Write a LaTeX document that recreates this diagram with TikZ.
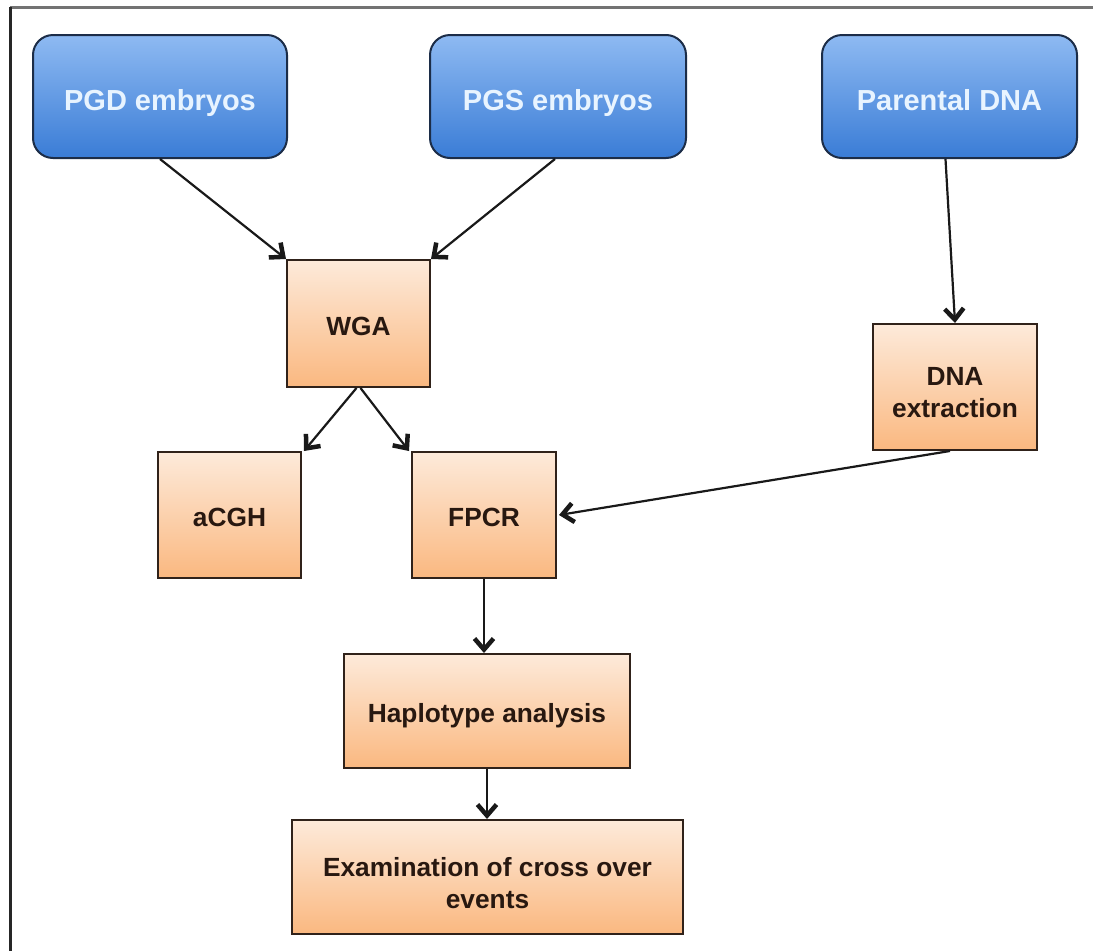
\documentclass[tikz,border=0pt]{standalone}
\usepackage{fontspec}
\setmainfont{Liberation Sans}
\usetikzlibrary{arrows.meta}
\definecolor{bluetop}{RGB}{142,186,242}
\definecolor{bluebot}{RGB}{58,124,214}
\definecolor{blueline}{RGB}{28,45,72}
\definecolor{bluetext}{RGB}{232,244,255}
\definecolor{ortop}{RGB}{253,234,218}
\definecolor{orbot}{RGB}{250,184,128}
\definecolor{orline}{RGB}{48,34,26}
\definecolor{ortext}{RGB}{40,24,16}
\definecolor{arrowc}{RGB}{25,25,25}
\definecolor{frametop}{RGB}{115,115,115}
\tikzset{
  bluebox/.style={draw=blueline, line width=2pt, rounded corners=20pt,
    top color=bluetop, bottom color=bluebot, text=bluetext,
    font=\fontsize{29}{33}\selectfont\bfseries, align=center, inner sep=0pt,
    text height=30pt, text depth=3pt},
  orbox/.style={draw=orline, line width=2pt,
    top color=ortop, bottom color=orbot, text=ortext,
    font=\fontsize{26.3}{32}\selectfont\bfseries, align=center, inner sep=0pt},
  oneline/.style={text height=26pt, text depth=3pt},
  conn/.style={draw=arrowc, line width=2.2pt,
    -{Straight Barb[length=11pt,width=19pt,line width=4.5pt]}}
}
\begin{document}
\begin{tikzpicture}[x=1pt,y=-1pt]
\useasboundingbox (0,0) rectangle (1093,951);
\fill[white] (0,0) rectangle (1093,951);
\draw[frametop, line width=3pt] (10,7) -- (1093,7);
\draw[black!85, line width=3pt] (10,7) -- (10,951);

\node[bluebox, minimum width=254pt, minimum height=123pt] (pgd) at (160,96.5) {PGD embryos};
\node[bluebox, minimum width=256pt, minimum height=123pt] (pgs) at (558,96.5) {PGS embryos};
\node[bluebox, minimum width=255pt, minimum height=123pt] (par) at (949.5,96.5) {Parental DNA};

\node[orbox, oneline, minimum width=143pt, minimum height=127pt] (wga) at (358.5,323.5) {WGA};
\node[orbox, minimum width=164pt, minimum height=126pt] (dna) at (955,387) {\rule{0pt}{29pt}DNA\\extraction};
\node[orbox, oneline, minimum width=143pt, minimum height=126pt] (acgh) at (229.5,515) {aCGH};
\node[orbox, oneline, minimum width=144pt, minimum height=126pt] (fpcr) at (484,515) {FPCR};
\node[orbox, oneline, minimum width=286pt, minimum height=114pt] (hap) at (487,711) {Haplotype analysis};
\node[orbox, minimum width=391pt, minimum height=114pt] (exam) at (487.5,877) {\rule{0pt}{31pt}Examination of cross over\\events};

\draw[conn] (pgd.south) -- (wga.north west);
\draw[conn] ([xshift=-3pt]pgs.south) -- (wga.north east);
\draw[conn] ([xshift=-4pt]par.south) -- (dna.north);
\draw[conn] ([xshift=-2pt]wga.south) -- ([xshift=2pt]acgh.north east);
\draw[conn] ([xshift=2pt]wga.south) -- ([xshift=-2pt]fpcr.north west);
\draw[conn] ([xshift=-5pt]dna.south) -- ([xshift=2pt]fpcr.east);
\draw[conn] (fpcr.south) -- (fpcr.south |- hap.north);
\draw[conn] (hap.south) -- (hap.south |- exam.north);
\end{tikzpicture}
\end{document}
